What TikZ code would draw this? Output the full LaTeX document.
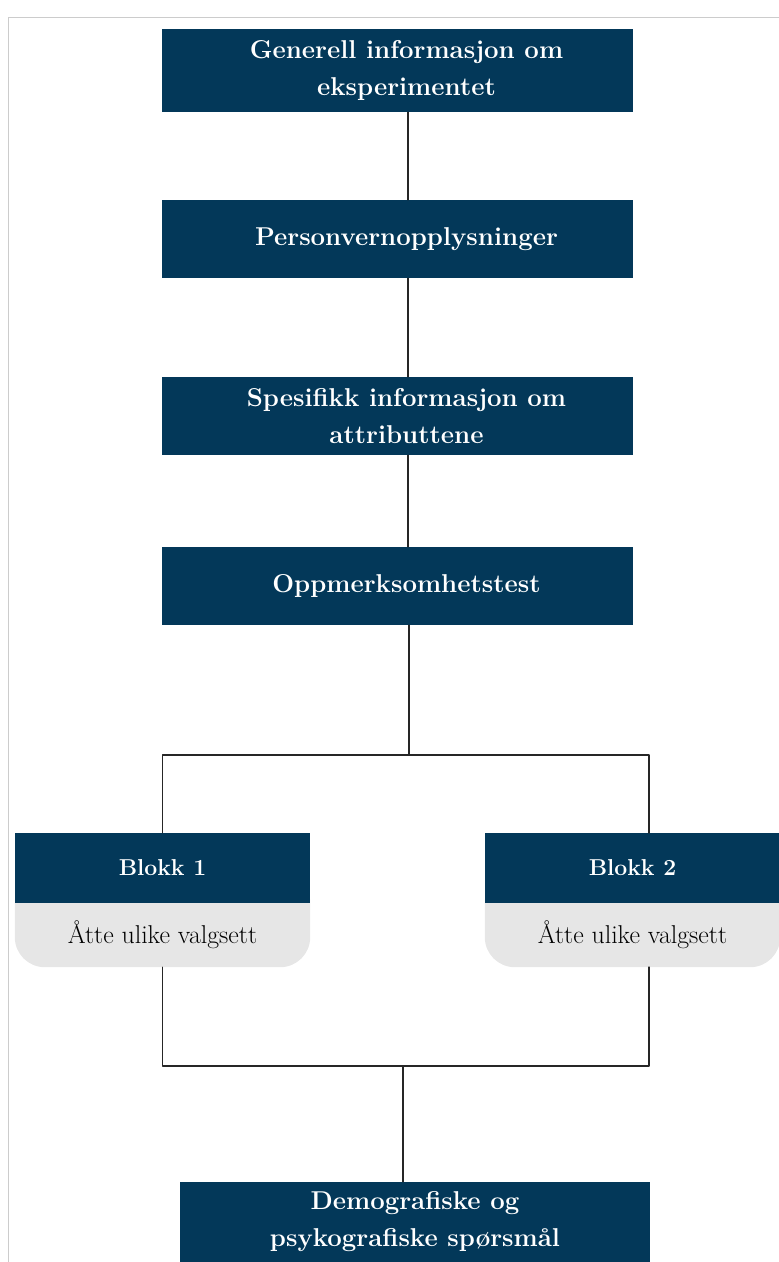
\documentclass[tikz,border=0pt]{standalone}
\usepackage{tikz}
\usetikzlibrary{backgrounds}
\definecolor{boxblue}{RGB}{3,56,89}
\definecolor{valggray}{RGB}{230,230,230}
\definecolor{framegray}{RGB}{204,204,204}
\newcommand{\indl}{\hspace*{18pt}}
\tikzset{
  stepbox/.style={rectangle,fill=boxblue,text=white,inner sep=0pt,align=center,
    minimum width=471pt,minimum height=78pt,font=\fontsize{25.8}{37}\selectfont\bfseries},
  blokkbox/.style={stepbox,minimum width=295pt,minimum height=70pt,font=\fontsize{23}{28}\selectfont\bfseries},
  valgbox/.style={rectangle,inner sep=0pt,minimum width=295pt,minimum height=64pt,
    font=\fontsize{25.8}{30}\selectfont},
  conn/.style={line width=1.2pt,draw=black!85}
}

\begin{document}
\begin{tikzpicture}[line cap=round,line join=round,x=1pt,y=-1pt]
      \useasboundingbox (0,0) rectangle (779,1262);
      \draw[framegray,line width=1pt] (8,1262) -- (8,17) -- (779,17);
      % steps
      \node[stepbox,minimum height=83pt] (gen) at (397.5,70.5) {\indl Generell informasjon om\\\indl eksperimentet};
      \node[stepbox] (pers) at (397.5,239) {\indl Personvernopplysninger};
      \node[stepbox] (spes) at (397.5,416) {\indl Spesifikk informasjon om\\\indl attributtene};
      \node[stepbox] (opp) at (397.5,586) {\indl Oppmerksomhetstest};
      \node[blokkbox] (blokk1) at (162.5,868) {Blokk 1};
      \node[blokkbox] (blokk2) at (632.5,868) {Blokk 2};
      \node[valgbox] (valg1) at (162.5,935) {Åtte ulike valgsett};
      \node[valgbox] (valg2) at (632.5,935) {Åtte ulike valgsett};
      \node[stepbox,minimum width=470pt,minimum height=80pt] (demo) at (415,1222) {Demografiske og\\psykografiske spørsmål};
      \begin{scope}[on background layer]
      \fill[valggray,rounded corners=30pt] ([yshift=30pt]valg1.north west) rectangle (valg1.south east);
      \fill[valggray,rounded corners=30pt] ([yshift=30pt]valg2.north west) rectangle (valg2.south east);
      \end{scope}
      % connectors
      \coordinate (split) at (409,755);
      \coordinate (b2in) at (649,833);
      \coordinate (join) at (403,1066);
      \coordinate (b2out) at (649,967);
      \draw[conn] ([xshift=10.5pt]gen.south) -- ([xshift=10.5pt]pers.north);
      \draw[conn] ([xshift=10.5pt]pers.south) -- ([xshift=10.5pt]spes.north);
      \draw[conn] ([xshift=10.5pt]spes.south) -- ([xshift=10.5pt]opp.north);
      \draw[conn] ([xshift=11.5pt]opp.south) -- (split);
      \draw[conn] (blokk1.north) |- (split) -| (b2in);
      \draw[conn] (valg1.south) |- (join) -| (b2out);
      \draw[conn] (join) -- (demo.north -| join);
\end{tikzpicture}
\end{document}
